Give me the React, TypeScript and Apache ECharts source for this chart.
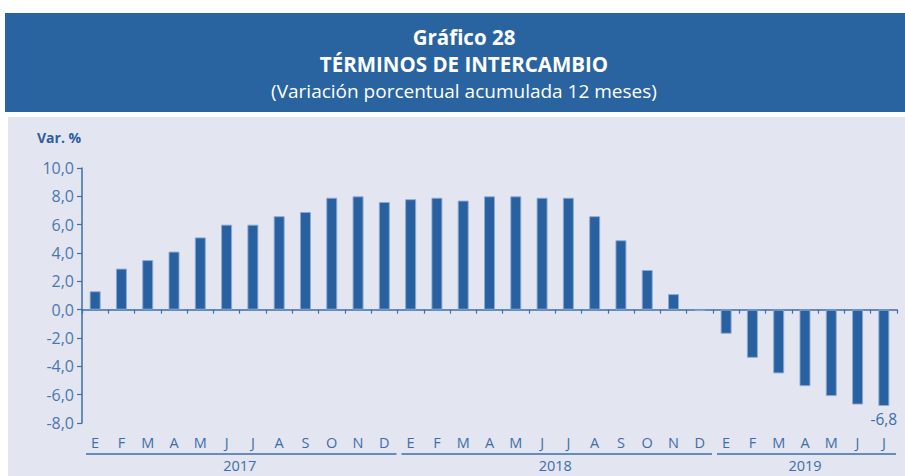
import React, { useEffect, useRef } from "react";
import * as echarts from "echarts";

const months: string[] = [
  "E","F","M","A","M","J","J","A","S","O","N","D",
  "E","F","M","A","M","J","J","A","S","O","N","D",
  "E","F","M","A","M","J","J",
];
const values: number[] = [
  1.3, 2.9, 3.5, 4.1, 5.1, 6.0, 6.0, 6.6, 6.9, 7.9, 8.0, 7.6,
  7.8, 7.9, 7.7, 8.0, 8.0, 7.9, 7.9, 6.6, 4.9, 2.8, 1.1, -0.1,
  -1.7, -3.4, -4.5, -5.4, -6.1, -6.7, -6.8,
];
const years: string[] = ["2017", "2018", "2019"];
const yearSpans: number[] = [12, 12, 7];
const yTicks = { min: -8, max: 10, interval: 2 };
const titleLines: string[] = ["Gráfico 28", "TÉRMINOS DE INTERCAMBIO", "(Variación porcentual acumulada 12 meses)"];
const yName = "Var. %";

const FONT = "'Open Sans', 'Noto Sans', sans-serif";
const BLUE = "#2961A0";
const TXT = "#3D6EA9";

export default function App() {
  const ref = useRef<HTMLDivElement>(null);
  useEffect(() => {
    if (!ref.current) return;
    const chart = echarts.init(ref.current, null, { renderer: "svg" });
    const last = values.length - 1;
    chart.setOption({
      animation: false,
      backgroundColor: "#ffffff",
      grid: { left: 82, right: 8, top: 168, bottom: 53, containLabel: false },
      xAxis: [
        {
          type: "category",
          data: months,
          boundaryGap: true,
          axisLine: { onZero: true, lineStyle: { color: TXT, width: 1.5 } },
          axisTick: { show: true, length: 4, inside: false, alignWithLabel: false, lineStyle: { color: TXT, width: 1.2 } },
          axisLabel: { show: false },
          splitLine: { show: false },
        },
        {
          type: "category",
          data: months,
          position: "bottom",
          boundaryGap: true,
          axisLine: { show: false },
          axisTick: { show: false },
          axisLabel: { show: true, interval: 0, margin: 12, color: TXT, fontFamily: FONT, fontSize: 14.5 },
          splitLine: { show: false },
        },
      ],
      yAxis: {
        type: "value",
        min: yTicks.min,
        max: yTicks.max,
        interval: yTicks.interval,
        axisLine: { show: true, lineStyle: { color: TXT, width: 1.5 } },
        axisTick: { show: true, length: 5, lineStyle: { color: TXT, width: 1.2 } },
        axisLabel: {
          color: "#4A78AE",
          fontFamily: FONT,
          fontSize: 16,
          margin: 8,
          formatter: (v: number) => v.toFixed(1).replace(".", ","),
        },
        splitLine: { show: false },
      },
      series: [
        {
          type: "bar",
          xAxisIndex: 0,
          barWidth: 11,
          itemStyle: { color: BLUE, borderColor: "rgba(140,170,212,0.9)", borderWidth: 1 },
          data: values.map((v, i) =>
            i === last
              ? {
                  value: v,
                  label: {
                    show: true,
                    position: "bottom",
                    distance: 5,
                    color: TXT,
                    fontFamily: FONT,
                    fontSize: 15.5,
                    formatter: (p: any) => String(p.value).replace(".", ","),
                  },
                }
              : v
          ),
        },
      ],
    });

    const x0 = chart.convertToPixel({ xAxisIndex: 0 }, 0) as number;
    const x1 = chart.convertToPixel({ xAxisIndex: 0 }, 1) as number;
    const band = x1 - x0;
    const yBottom = chart.convertToPixel({ yAxisIndex: 0 }, yTicks.min) as number;
    const lineY = yBottom + 31;
    const yearY = yBottom + 42;
    const yTop = chart.convertToPixel({ yAxisIndex: 0 }, yTicks.max) as number;

    const graphics: any[] = [
      { type: "rect", z: -10, silent: true, shape: { x: 8, y: 117, width: 897, height: 359 }, style: { fill: "#E3E5F1" } },
      { type: "rect", z: -10, silent: true, shape: { x: 5, y: 13, width: 900, height: 99 }, style: { fill: "#2964A0" } },
      { type: "text", x: 464, y: 37, style: { text: titleLines[0], fill: "#fff", font: `bold 20.5px ${FONT}`, align: "center", verticalAlign: "middle" } },
      { type: "text", x: 464, y: 63.5, style: { text: titleLines[1], fill: "#fff", font: `bold 20.5px ${FONT}`, align: "center", verticalAlign: "middle" } },
      { type: "text", x: 464, y: 90.5, style: { text: titleLines[2], fill: "#fff", font: `19px ${FONT}`, align: "center", verticalAlign: "middle" } },
      { type: "text", x: 37, y: yTop - 31, style: { text: yName, fill: "#2A5F9E", font: `bold 14px ${FONT}`, align: "left", verticalAlign: "middle" } },
    ];
    let start = 0;
    years.forEach((yr, k) => {
      const n = yearSpans[k];
      const left = x0 - band / 2 + start * band;
      const right = left + n * band;
      graphics.push({
        type: "line",
        shape: { x1: left + 4, y1: lineY, x2: right - 1, y2: lineY },
        style: { stroke: TXT, lineWidth: 1.5 },
      });
      graphics.push({
        type: "text",
        x: (left + right) / 2,
        y: yearY,
        style: { text: yr, fill: TXT, font: `14.5px ${FONT}`, align: "center", verticalAlign: "middle" },
      });
      start += n;
    });
    chart.setOption({ graphic: graphics });

    return () => chart.dispose();
  }, []);
  return <div ref={ref} style={{ position: "fixed", left: 0, top: 0, width: 905, height: 476 }} />;
}
